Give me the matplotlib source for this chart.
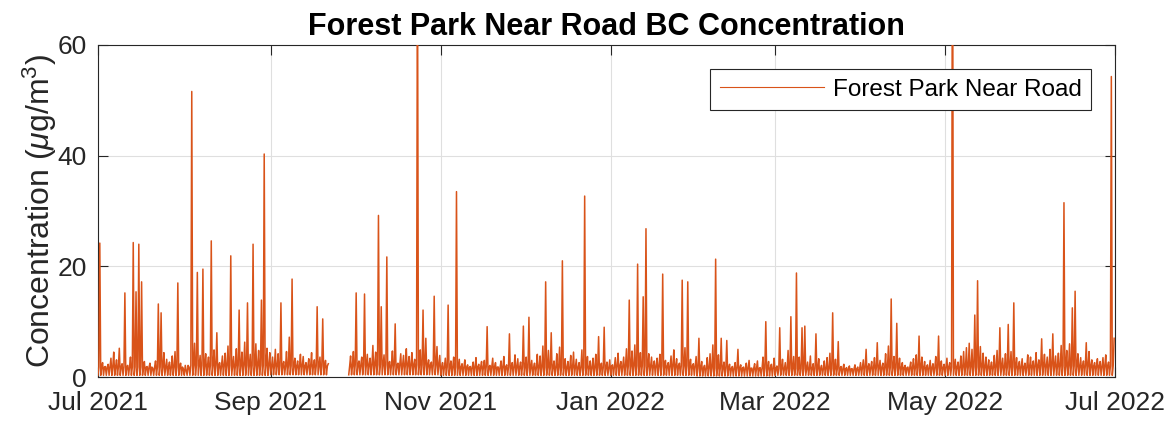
import numpy as np
import matplotlib
matplotlib.use("Agg")
import matplotlib.pyplot as plt
import matplotlib.dates as mdates

plt.rcParams.update({
    "font.family": ["Liberation Sans", "DejaVu Sans"],
    "mathtext.fontset": "custom",
    "mathtext.rm": "Liberation Sans",
    "mathtext.it": "Liberation Sans:italic",
})
LINE, INK, GRID = "#D95319", "#262626", "#dfdfdf"

# daily background peak (ug/m3), day 0 = 2021-07-01; nan = instrument offline
bg_peak = [
    3.0, 2.6, 1.9, 2.3, 3.4, 4.5, 3.1, 5.2, 2.4, 3.0,
    2.1, 3.6, 4.8, 3.9, 5.5, 4.1, 2.8, 1.9, 2.5, 1.6,
    2.9, 6.2, 5.1, 4.4, 3.2, 2.7, 3.8, 4.6, 3.3, 2.5,
    1.4, 1.2, 1.8, 3.5, 6.1, 4.7, 3.9, 5.8, 4.2, 3.6,
    5.4, 4.9, 3.1, 2.6, 3.8, 4.3, 5.6, 6.4, 3.7, 5.1,
    7.2, 4.5, 6.3, 5.9, 4.1, 7.8, 6.0, 4.8, 5.5, 8.2,
    5.2, 4.4, 3.6, 5.0, 4.2, 3.9, 2.8, 4.6, 5.3, 4.0,
    3.4, 2.9, 4.1, 3.7, 2.6, 3.3, 4.4, 3.1, 4.8, 3.6,
    2.7, 3.0, 2.4, np.nan, np.nan, np.nan, np.nan, np.nan, np.nan, np.nan,
    3.8, 4.6, 5.3, 2.9, 3.6, 6.2, 4.1, 3.4, 5.7, 4.5,
    6.8, 5.2, 4.0, 3.6, 2.8, 4.7, 3.3, 2.5, 4.2, 3.9,
    5.1, 3.7, 4.4, 3.2, 6.0, 4.9, 3.5, 4.6, 3.1, 2.7,
    4.8, 5.5, 3.9, 2.6, 3.4, 4.3, 2.9, 3.6, 5.0, 3.2,
    2.4, 3.1, 2.2, 1.9, 2.7, 3.5, 2.3, 2.8, 3.0, 2.5,
    2.1, 3.4, 2.6, 1.8, 2.9, 3.7, 2.2, 3.1, 2.6, 4.0,
    3.3, 2.7, 4.4, 3.6, 5.2, 3.0, 2.5, 4.1, 3.8, 5.6,
    6.0, 4.8, 3.5, 2.9, 4.2, 5.4, 4.6, 3.3, 2.8, 3.9,
    4.5, 3.2, 2.6, 4.9, 6.3, 3.7, 2.9, 3.4, 4.1, 3.0,
    2.5, 3.8, 2.7, 3.1, 2.2, 3.5, 4.3, 2.8, 3.6, 5.1,
    6.2, 4.7, 5.8, 7.1, 4.4, 6.6, 5.9, 4.2, 3.6, 2.9,
    3.4, 4.1, 5.5, 3.0, 2.6, 3.8, 4.9, 3.3, 2.5, 6.0,
    5.3, 4.6, 3.2, 2.4, 3.7, 4.5, 2.8, 2.1, 3.5, 4.2,
    5.8, 6.5, 4.0, 3.1, 2.7, 3.9, 2.3, 1.9, 2.6, 3.3,
    2.2, 1.8, 2.5, 3.0, 1.6, 2.4, 2.9, 1.7, 3.6, 4.4,
    2.8, 2.3, 3.4, 2.0, 4.1, 3.2, 2.6, 4.8, 5.4, 3.7,
    4.9, 3.6, 4.2, 3.1, 2.7, 3.8, 2.4, 4.5, 3.3, 2.1,
    2.9, 3.5, 4.3, 5.0, 3.2, 2.6, 1.9, 2.3, 1.7, 2.0,
    1.5, 2.2, 1.8, 2.6, 3.1, 3.9, 2.4, 2.8, 3.5, 4.6,
    3.0, 2.5, 4.2, 5.6, 4.8, 3.7, 5.2, 3.4, 2.6, 2.1,
    1.8, 2.7, 3.3, 4.0, 5.1, 3.6, 2.8, 2.2, 3.0, 2.4,
    3.7, 4.5, 2.9, 2.3, 3.4, 2.6, 4.1, 3.2, 2.7, 3.8,
    4.6, 5.3, 6.1, 5.0, 6.4, 7.2, 5.5, 4.3, 3.6, 3.1,
    2.7, 3.9, 4.8, 5.7, 3.4, 4.2, 5.9, 4.6, 6.3, 3.5,
    2.8, 3.3, 2.5, 4.0, 3.6, 2.9, 4.4, 3.1, 5.2, 4.1,
    3.6, 5.0, 4.6, 3.8, 4.3, 5.7, 3.9, 4.8, 6.0, 5.4,
    6.4, 4.2, 3.5, 2.9, 3.8, 4.6, 3.1, 2.6, 3.3, 2.8,
    3.5, 4.0, 2.7, 5.5, 4.2,
]

# short high-concentration events (day index, peak value)
spike_day = [0, 9, 12, 13, 14, 15, 21, 22, 28, 33, 35, 37, 40, 42, 47, 50, 53, 55, 58, 59,
             65, 68, 69, 78, 80, 92, 95, 100, 101, 103, 106, 114, 116, 117, 120, 125, 128,
             139, 147, 152, 154, 160, 162, 166, 174, 179, 181, 190, 193, 195, 196, 202, 209,
             211, 215, 221, 223, 225, 229, 239, 244, 248, 250, 252, 253, 257, 263, 265, 275,
             279, 284, 286, 294, 301, 306, 314, 315, 323, 326, 328, 338, 342, 346, 349, 350,
             354, 363, 364]
spike_val = [24.2, 15.2, 24.3, 15.4, 24.0, 17.2, 13.2, 11.6, 17.0, 51.6, 18.9, 19.5, 24.6, 8.0,
             21.9, 12.1, 13.4, 24.0, 13.9, 40.3, 13.4, 7.2, 17.7, 12.7, 10.5, 15.2, 15.0, 29.2,
             12.7, 21.7, 9.6, 78.0, 12.1, 7.0, 14.6, 13.0, 33.5, 9.1, 7.8, 9.2, 10.8, 17.2, 8.0,
             21.0, 32.7, 7.3, 9.0, 13.9, 20.4, 14.5, 26.8, 18.6, 17.5, 17.2, 7.0, 21.3, 7.0, 6.6,
             5.0, 10.0, 8.9, 10.9, 18.8, 8.9, 9.2, 7.8, 11.6, 6.4, 5.0, 6.2, 14.1, 9.7, 7.4, 7.4,
             95.0, 11.2, 17.4, 8.9, 9.5, 13.4, 6.9, 7.8, 31.5, 12.5, 15.5, 6.2, 54.3, 7.0]

# overnight floor and typical level per calendar month (Jul 2021 .. Jun 2022)
month_low = [0.3, 0.3, 0.4, 0.4, 0.3, 0.3, 0.3, 0.2, 0.3, 0.3, 0.3, 0.3]
month_typ = [1.8, 2.1, 2.0, 2.2, 1.8, 1.7, 2.0, 1.6, 1.5, 1.7, 1.8, 2.0]

start = np.datetime64("2021-07-01T00", "h")
high = np.array(bg_peak, dtype=float)
high[spike_day] = spike_val
days = np.arange(len(high))
day_dates = start + (days * 24).astype("timedelta64[h]")
month_idx = (day_dates.astype("datetime64[M]") - start.astype("datetime64[M]")).astype(int)

# three readings per day: overnight floor, daytime level, daily peak
hours, conc = [], []
for d in days:
    lo, typ = month_low[month_idx[d]], month_typ[month_idx[d]]
    vals = [lo, typ, high[d]]
    if np.isnan(high[d]):
        vals = [np.nan] * 3
    for h, v in zip((0, 8, 16), vals):
        hours.append(d * 24 + h)
        conc.append(v)
t = start + np.array(hours).astype("timedelta64[h]")

fig = plt.figure(figsize=(11.73, 4.22), dpi=100)
ax = fig.add_axes([0.0835, 0.1066, 0.8671, 0.7868])
ax.plot(t, conc, color=LINE, lw=1.1, label="Forest Park Near Road", zorder=3)

ax.set_xlim(np.datetime64("2021-07-01"), np.datetime64("2022-07-01"))
ax.set_ylim(0, 60)
ax.set_yticks([0, 20, 40, 60])
ax.xaxis.set_major_locator(mdates.MonthLocator(bymonth=[1, 3, 5, 7, 9, 11]))
ax.xaxis.set_major_formatter(mdates.DateFormatter("%b %Y"))
ax.grid(True, color=GRID, lw=0.8, zorder=0)
ax.set_axisbelow(True)
ax.tick_params(direction="in", length=7, width=0.8, color=INK, labelcolor=INK,
               labelsize=19, top=True, right=True, pad=8)
ax.tick_params(axis="x", pad=10)
for s in ax.spines.values():
    s.set_color(INK); s.set_linewidth(0.8)

ax.set_ylabel(r"Concentration ($\mu$g/m$^3$)", fontsize=23, color=INK, labelpad=-1)
ax.set_title("Forest Park Near Road BC Concentration", fontsize=22, fontweight="bold",
             color="black", pad=7)
leg = ax.legend(loc="upper right", fontsize=17.5, fancybox=False, framealpha=1,
                edgecolor=INK, handlelength=4.3, handletextpad=0.35, borderpad=0.38,
                borderaxespad=1.0)
leg.get_frame().set_linewidth(0.8)
leg.get_lines()[0].set_linewidth(0.8)

fig.savefig("out.png", dpi=100)
